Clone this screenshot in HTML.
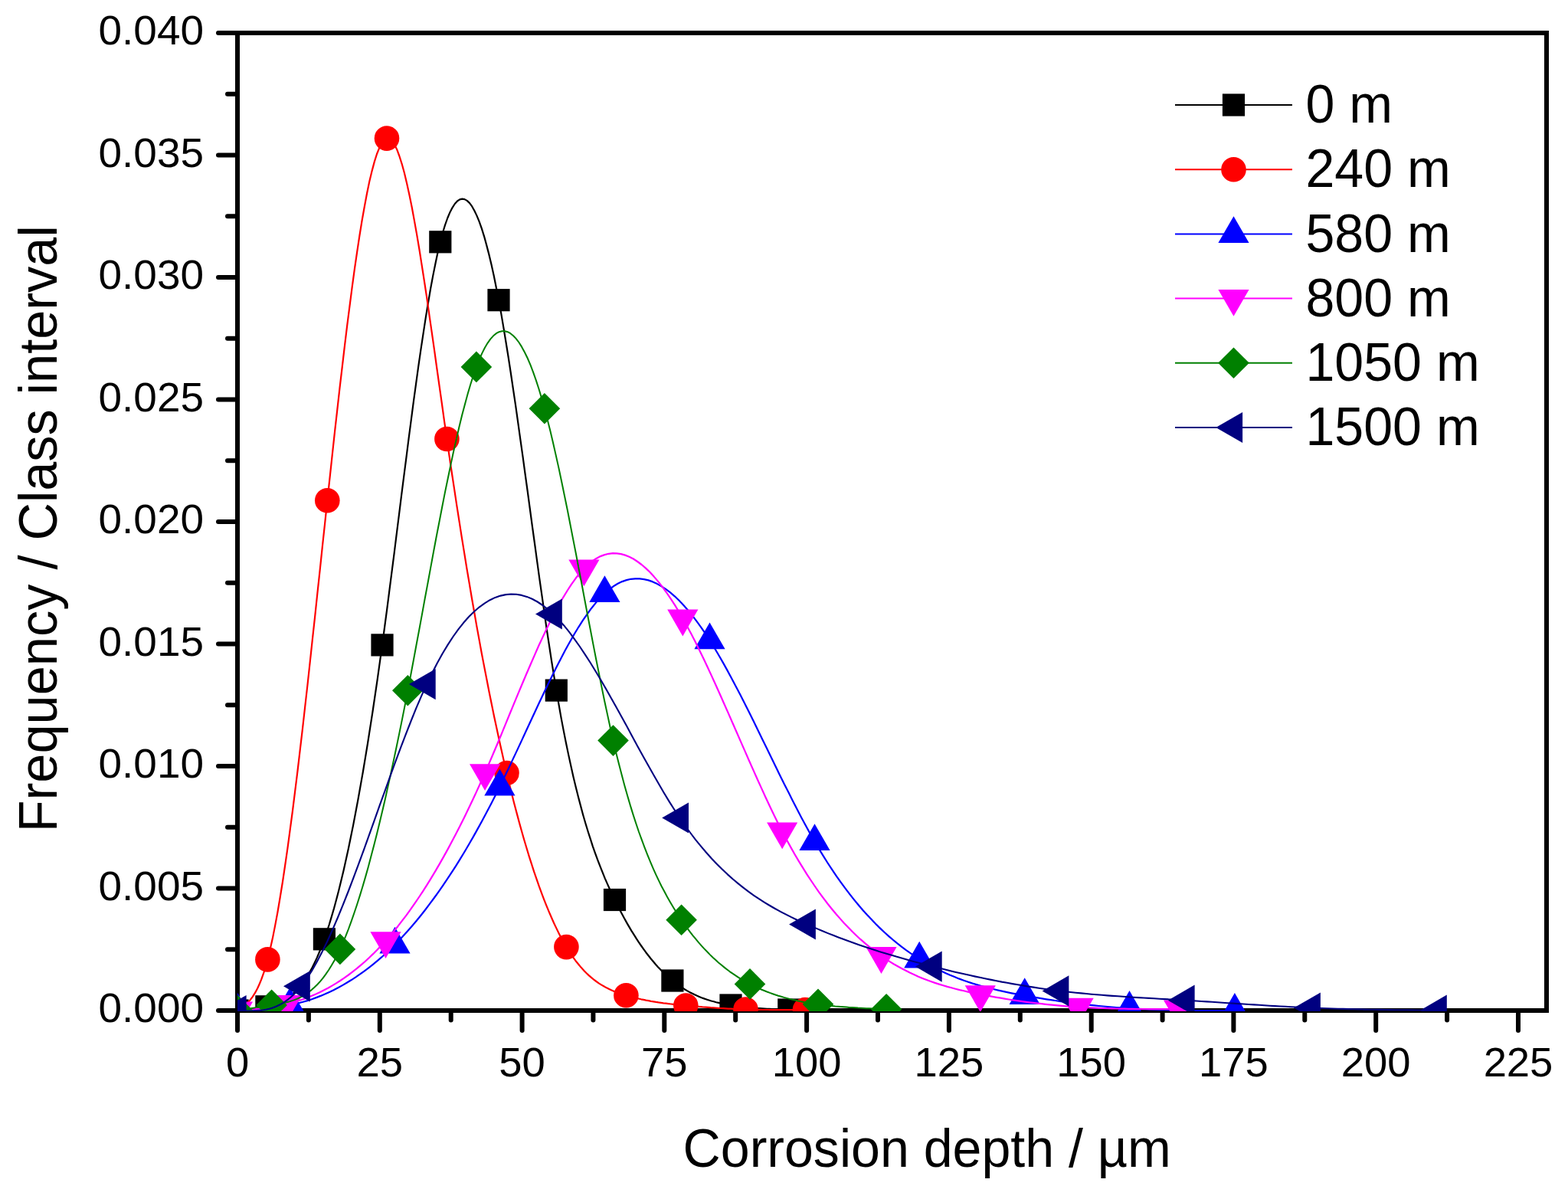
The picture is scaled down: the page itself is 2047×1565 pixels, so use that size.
<!DOCTYPE html><html><head><meta charset="utf-8"><style>html,body{margin:0;padding:0;background:#fff;overflow:hidden;width:2047px;height:1565px;}svg{display:block;}text{font-family:"Liberation Sans",Arial,sans-serif;fill:#000;}</style></head><body>
<svg width="2047" height="1565" viewBox="0 0 2047 1565">
<rect width="2047" height="1565" fill="#fff"/>
<defs><clipPath id="pc"><rect x="310" y="43" width="1709" height="1277"/></clipPath></defs>
<g stroke="#000" stroke-width="6" fill="none">
<rect x="310" y="43" width="1709" height="1276" stroke-linejoin="miter"/>
<line x1="285" y1="1319.0" x2="310" y2="1319.0" stroke-linecap="round"/>
<line x1="297" y1="1239.2" x2="310" y2="1239.2" stroke-linecap="round"/>
<line x1="285" y1="1159.5" x2="310" y2="1159.5" stroke-linecap="round"/>
<line x1="297" y1="1079.8" x2="310" y2="1079.8" stroke-linecap="round"/>
<line x1="285" y1="1000.0" x2="310" y2="1000.0" stroke-linecap="round"/>
<line x1="297" y1="920.2" x2="310" y2="920.2" stroke-linecap="round"/>
<line x1="285" y1="840.5" x2="310" y2="840.5" stroke-linecap="round"/>
<line x1="297" y1="760.8" x2="310" y2="760.8" stroke-linecap="round"/>
<line x1="285" y1="681.0" x2="310" y2="681.0" stroke-linecap="round"/>
<line x1="297" y1="601.2" x2="310" y2="601.2" stroke-linecap="round"/>
<line x1="285" y1="521.5" x2="310" y2="521.5" stroke-linecap="round"/>
<line x1="297" y1="441.8" x2="310" y2="441.8" stroke-linecap="round"/>
<line x1="285" y1="362.0" x2="310" y2="362.0" stroke-linecap="round"/>
<line x1="297" y1="282.2" x2="310" y2="282.2" stroke-linecap="round"/>
<line x1="285" y1="202.5" x2="310" y2="202.5" stroke-linecap="round"/>
<line x1="297" y1="122.8" x2="310" y2="122.8" stroke-linecap="round"/>
<line x1="285" y1="43.0" x2="310" y2="43.0" stroke-linecap="round"/>
<line x1="310.0" y1="1319" x2="310.0" y2="1345" stroke-linecap="round"/>
<line x1="402.9" y1="1319" x2="402.9" y2="1331.5" stroke-linecap="round"/>
<line x1="495.8" y1="1319" x2="495.8" y2="1345" stroke-linecap="round"/>
<line x1="588.7" y1="1319" x2="588.7" y2="1331.5" stroke-linecap="round"/>
<line x1="681.6" y1="1319" x2="681.6" y2="1345" stroke-linecap="round"/>
<line x1="774.4" y1="1319" x2="774.4" y2="1331.5" stroke-linecap="round"/>
<line x1="867.3" y1="1319" x2="867.3" y2="1345" stroke-linecap="round"/>
<line x1="960.2" y1="1319" x2="960.2" y2="1331.5" stroke-linecap="round"/>
<line x1="1053.1" y1="1319" x2="1053.1" y2="1345" stroke-linecap="round"/>
<line x1="1146.0" y1="1319" x2="1146.0" y2="1331.5" stroke-linecap="round"/>
<line x1="1238.9" y1="1319" x2="1238.9" y2="1345" stroke-linecap="round"/>
<line x1="1331.8" y1="1319" x2="1331.8" y2="1331.5" stroke-linecap="round"/>
<line x1="1424.7" y1="1319" x2="1424.7" y2="1345" stroke-linecap="round"/>
<line x1="1517.6" y1="1319" x2="1517.6" y2="1331.5" stroke-linecap="round"/>
<line x1="1610.4" y1="1319" x2="1610.4" y2="1345" stroke-linecap="round"/>
<line x1="1703.3" y1="1319" x2="1703.3" y2="1331.5" stroke-linecap="round"/>
<line x1="1796.2" y1="1319" x2="1796.2" y2="1345" stroke-linecap="round"/>
<line x1="1889.1" y1="1319" x2="1889.1" y2="1331.5" stroke-linecap="round"/>
<line x1="1982.0" y1="1319" x2="1982.0" y2="1345" stroke-linecap="round"/>
</g>
<g font-size="54.4">
<text transform="translate(266,1334.0) scale(1.01,1)" text-anchor="end">0.000</text>
<text transform="translate(266,1174.5) scale(1.01,1)" text-anchor="end">0.005</text>
<text transform="translate(266,1015.0) scale(1.01,1)" text-anchor="end">0.010</text>
<text transform="translate(266,855.5) scale(1.01,1)" text-anchor="end">0.015</text>
<text transform="translate(266,696.0) scale(1.01,1)" text-anchor="end">0.020</text>
<text transform="translate(266,536.5) scale(1.01,1)" text-anchor="end">0.025</text>
<text transform="translate(266,377.0) scale(1.01,1)" text-anchor="end">0.030</text>
<text transform="translate(266,217.5) scale(1.01,1)" text-anchor="end">0.035</text>
<text transform="translate(266,58.0) scale(1.01,1)" text-anchor="end">0.040</text>
<text x="310.0" y="1404.6" text-anchor="middle">0</text>
<text x="495.8" y="1404.6" text-anchor="middle">25</text>
<text x="681.6" y="1404.6" text-anchor="middle">50</text>
<text x="867.3" y="1404.6" text-anchor="middle">75</text>
<text x="1053.1" y="1404.6" text-anchor="middle">100</text>
<text x="1238.9" y="1404.6" text-anchor="middle">125</text>
<text x="1424.7" y="1404.6" text-anchor="middle">150</text>
<text x="1610.4" y="1404.6" text-anchor="middle">175</text>
<text x="1796.2" y="1404.6" text-anchor="middle">200</text>
<text x="1982.0" y="1404.6" text-anchor="middle">225</text>
</g>
<text transform="translate(1210.2,1523.2) scale(0.973,1)" font-size="70" text-anchor="middle">Corrosion depth / µm</text>
<text transform="translate(74,690.3) rotate(-90) scale(0.979,1)" x="0" y="0" font-size="70" text-anchor="middle">Frequency / Class interval</text>
<g clip-path="url(#pc)">
<rect x="295.4" y="1304.4" width="29.2" height="29.2" fill="#000000"/>
<rect x="333.3" y="1299.2" width="29.2" height="29.2" fill="#000000"/>
<rect x="408.8" y="1211.2" width="29.2" height="29.2" fill="#000000"/>
<rect x="484.4" y="827.3" width="29.2" height="29.2" fill="#000000"/>
<rect x="560.2" y="301.2" width="29.2" height="29.2" fill="#000000"/>
<rect x="636.4" y="377.1" width="29.2" height="29.2" fill="#000000"/>
<rect x="711.7" y="886.5" width="29.2" height="29.2" fill="#000000"/>
<rect x="787.9" y="1159.9" width="29.2" height="29.2" fill="#000000"/>
<rect x="863.3" y="1265.4" width="29.2" height="29.2" fill="#000000"/>
<rect x="939.4" y="1297.4" width="29.2" height="29.2" fill="#000000"/>
<rect x="1015.2" y="1303.4" width="29.2" height="29.2" fill="#000000"/>
<path d="M310.0,1319.0 L311.6,1318.9 L313.2,1318.7 L314.7,1318.5 L316.3,1318.4 L317.9,1318.2 L319.5,1318.1 L321.1,1317.9 L322.6,1317.7 L324.2,1317.6 L325.8,1317.4 L327.4,1317.2 L328.9,1317.0 L330.5,1316.8 L332.1,1316.6 L333.7,1316.4 L335.3,1316.1 L336.8,1315.9 L338.4,1315.6 L340.0,1315.4 L341.6,1315.1 L343.2,1314.8 L344.7,1314.5 L346.3,1314.1 L347.9,1313.8 L351.0,1313.1 L354.2,1312.2 L357.3,1311.3 L360.5,1310.2 L363.6,1309.0 L366.8,1307.6 L369.9,1306.0 L373.1,1304.1 L376.2,1302.1 L379.4,1299.7 L382.5,1297.1 L385.6,1294.1 L388.8,1290.8 L391.9,1287.1 L395.1,1283.1 L398.2,1278.7 L401.4,1273.8 L404.5,1268.5 L407.7,1262.7 L410.8,1256.4 L414.0,1249.6 L417.1,1242.2 L420.3,1234.3 L423.4,1225.8 L426.5,1216.7 L429.7,1207.0 L432.8,1196.6 L436.0,1185.7 L439.1,1174.2 L442.3,1162.0 L445.4,1149.3 L448.6,1135.9 L451.7,1122.0 L454.9,1107.5 L458.0,1092.3 L461.2,1076.6 L464.3,1060.3 L467.5,1043.3 L470.6,1025.8 L473.8,1007.7 L476.9,989.1 L480.1,969.8 L483.2,949.9 L486.4,929.5 L489.5,908.5 L492.7,886.9 L495.8,864.7 L499.0,841.9 L502.1,818.5 L505.3,794.6 L508.4,770.3 L511.6,745.7 L514.8,720.8 L517.9,695.8 L521.1,670.7 L524.2,645.6 L527.4,620.6 L530.6,595.8 L533.7,571.3 L536.9,547.1 L540.0,523.4 L543.2,500.2 L546.3,477.6 L549.5,455.7 L552.7,434.6 L555.8,414.3 L559.0,395.0 L562.1,376.8 L565.3,359.6 L568.5,343.7 L571.6,329.1 L574.8,315.8 L577.9,303.9 L581.1,293.5 L584.3,284.5 L587.5,276.9 L590.7,270.8 L593.8,266.0 L597.0,262.5 L600.2,260.4 L603.4,259.6 L606.5,260.1 L609.7,261.9 L612.9,264.9 L616.1,269.2 L619.2,274.7 L622.4,281.4 L625.6,289.2 L628.8,298.2 L632.0,308.3 L635.1,319.6 L638.3,331.9 L641.5,345.3 L644.7,359.7 L647.8,375.2 L651.0,391.7 L654.2,408.9 L657.3,427.1 L660.4,446.0 L663.6,465.7 L666.7,486.0 L669.8,507.0 L673.0,528.4 L676.1,550.3 L679.2,572.6 L682.4,595.2 L685.5,618.0 L688.7,641.0 L691.8,664.0 L694.9,687.0 L698.1,710.0 L701.2,732.8 L704.3,755.4 L707.5,777.6 L710.6,799.6 L713.7,821.1 L716.9,842.0 L720.0,862.4 L723.2,882.1 L726.3,901.1 L729.5,919.5 L732.6,937.1 L735.8,953.9 L739.0,970.0 L742.2,985.4 L745.4,1000.0 L748.5,1014.0 L751.7,1027.3 L754.9,1040.0 L758.1,1052.1 L761.2,1063.7 L764.4,1074.7 L767.6,1085.2 L770.8,1095.2 L773.9,1104.8 L777.1,1113.9 L780.3,1122.6 L783.5,1130.9 L786.7,1138.9 L789.8,1146.6 L793.0,1153.9 L796.2,1161.0 L799.4,1167.9 L802.5,1174.5 L805.7,1180.9 L808.8,1187.0 L812.0,1193.0 L815.1,1198.8 L818.2,1204.4 L821.4,1209.9 L824.5,1215.1 L827.7,1220.2 L830.8,1225.2 L833.9,1229.9 L837.1,1234.5 L840.2,1238.9 L843.3,1243.2 L846.5,1247.3 L849.6,1251.2 L852.8,1255.0 L855.9,1258.7 L859.0,1262.2 L862.2,1265.5 L865.3,1268.7 L868.5,1271.7 L871.6,1274.6 L874.7,1277.4 L877.9,1280.0 L881.1,1282.5 L884.2,1284.9 L887.4,1287.1 L890.6,1289.2 L893.7,1291.2 L896.9,1293.1 L900.1,1294.9 L903.3,1296.5 L906.4,1298.1 L909.6,1299.6 L912.8,1300.9 L915.9,1302.2 L919.1,1303.4 L922.3,1304.5 L925.4,1305.5 L928.6,1306.5 L931.8,1307.3 L935.0,1308.2 L938.1,1308.9 L941.3,1309.6 L944.5,1310.3 L947.6,1310.9 L950.8,1311.5 L954.0,1312.0 L957.1,1312.5 L960.3,1313.0 L963.5,1313.4 L966.6,1313.8 L969.8,1314.2 L972.9,1314.5 L976.1,1314.9 L979.2,1315.2 L982.4,1315.4 L985.6,1315.7 L988.7,1316.0 L991.9,1316.2 L995.0,1316.4 L998.2,1316.6 L1001.4,1316.8 L1004.5,1316.9 L1007.7,1317.1 L1010.8,1317.2 L1014.0,1317.4 L1017.1,1317.5 L1020.3,1317.6 L1023.5,1317.8 L1026.6,1317.9 L1029.8,1318.0" fill="none" stroke="#000000" stroke-width="2.2" stroke-linejoin="round"/>
<circle cx="310.0" cy="1319.0" r="16.3" fill="#ff0000"/>
<circle cx="349.4" cy="1252.4" r="16.3" fill="#ff0000"/>
<circle cx="427.3" cy="653.3" r="16.3" fill="#ff0000"/>
<circle cx="505.0" cy="180.6" r="16.3" fill="#ff0000"/>
<circle cx="583.4" cy="573.0" r="16.3" fill="#ff0000"/>
<circle cx="661.5" cy="1009.0" r="16.3" fill="#ff0000"/>
<circle cx="739.4" cy="1236.1" r="16.3" fill="#ff0000"/>
<circle cx="817.4" cy="1299.3" r="16.3" fill="#ff0000"/>
<circle cx="895.3" cy="1312.5" r="16.3" fill="#ff0000"/>
<circle cx="973.5" cy="1317.5" r="16.3" fill="#ff0000"/>
<circle cx="1051.0" cy="1318.0" r="16.3" fill="#ff0000"/>
<path d="M310.0,1319.0 L311.6,1317.9 L313.3,1316.8 L314.9,1315.7 L316.6,1314.5 L318.2,1313.3 L319.8,1312.0 L321.5,1310.5 L323.1,1309.0 L324.8,1307.2 L326.4,1305.4 L328.1,1303.3 L329.7,1301.1 L331.3,1298.6 L333.0,1295.9 L334.6,1293.0 L336.3,1289.8 L337.9,1286.3 L339.5,1282.5 L341.2,1278.4 L342.8,1273.9 L344.5,1269.1 L346.1,1264.0 L347.7,1258.4 L349.4,1252.4 L352.6,1239.3 L355.9,1224.6 L359.1,1208.4 L362.4,1190.8 L365.6,1171.8 L368.9,1151.5 L372.1,1130.0 L375.4,1107.4 L378.6,1083.6 L381.9,1059.0 L385.1,1033.4 L388.4,1007.0 L391.6,979.8 L394.9,951.9 L398.1,923.5 L401.4,894.5 L404.6,865.1 L407.8,835.4 L411.1,805.3 L414.3,775.0 L417.6,744.6 L420.8,714.1 L424.1,683.7 L427.3,653.3 L430.6,623.2 L433.8,593.4 L437.0,563.9 L440.3,534.9 L443.5,506.4 L446.8,478.5 L450.0,451.2 L453.2,424.8 L456.5,399.3 L459.7,374.7 L462.9,351.1 L466.2,328.7 L469.4,307.5 L472.6,287.7 L475.9,269.2 L479.1,252.2 L482.3,236.8 L485.6,223.1 L488.8,211.1 L492.0,201.0 L495.3,192.8 L498.5,186.6 L501.8,182.5 L505.0,180.6 L508.3,181.0 L511.5,183.6 L514.8,188.2 L518.1,194.9 L521.3,203.5 L524.6,213.8 L527.9,225.8 L531.1,239.3 L534.4,254.2 L537.7,270.5 L540.9,287.9 L544.2,306.4 L547.5,326.0 L550.7,346.3 L554.0,367.5 L557.3,389.2 L560.5,411.6 L563.8,434.3 L567.1,457.3 L570.3,480.5 L573.6,503.8 L576.9,527.0 L580.1,550.2 L583.4,573.0 L586.6,595.4 L589.9,617.5 L593.2,639.1 L596.4,660.4 L599.7,681.4 L602.9,701.9 L606.2,722.1 L609.4,742.0 L612.7,761.4 L615.9,780.5 L619.2,799.2 L622.4,817.6 L625.7,835.6 L628.9,853.2 L632.2,870.4 L635.5,887.3 L638.7,903.8 L642.0,920.0 L645.2,935.7 L648.5,951.1 L651.7,966.1 L655.0,980.8 L658.2,995.1 L661.5,1009.0 L664.7,1022.5 L668.0,1035.7 L671.2,1048.5 L674.5,1060.9 L677.7,1072.9 L681.0,1084.7 L684.2,1096.0 L687.5,1107.0 L690.7,1117.6 L694.0,1127.9 L697.2,1137.9 L700.5,1147.4 L703.7,1156.7 L707.0,1165.6 L710.2,1174.1 L713.5,1182.4 L716.7,1190.2 L720.0,1197.8 L723.2,1205.0 L726.5,1211.9 L729.7,1218.4 L732.9,1224.6 L736.2,1230.5 L739.4,1236.1 L742.7,1241.3 L745.9,1246.3 L749.2,1250.9 L752.4,1255.3 L755.7,1259.3 L758.9,1263.1 L762.2,1266.7 L765.4,1270.0 L768.7,1273.1 L771.9,1275.9 L775.2,1278.6 L778.4,1281.0 L781.7,1283.3 L784.9,1285.4 L788.2,1287.3 L791.4,1289.1 L794.7,1290.8 L797.9,1292.3 L801.2,1293.7 L804.4,1295.0 L807.7,1296.2 L810.9,1297.3 L814.1,1298.3 L817.4,1299.3 L820.6,1300.2 L823.9,1301.1 L827.1,1302.0 L830.4,1302.8 L833.6,1303.5 L836.9,1304.3 L840.1,1304.9 L843.4,1305.6 L846.6,1306.2 L849.9,1306.8 L853.1,1307.3 L856.4,1307.9 L859.6,1308.4 L862.9,1308.8 L866.1,1309.3 L869.4,1309.7 L872.6,1310.1 L875.9,1310.5 L879.1,1310.9 L882.4,1311.2 L885.6,1311.6 L888.9,1311.9 L892.1,1312.2 L895.3,1312.5 L898.6,1312.8 L901.9,1313.1 L905.1,1313.4 L908.4,1313.7 L911.6,1313.9 L914.9,1314.2 L918.1,1314.5 L921.4,1314.7 L924.7,1314.9 L927.9,1315.2 L931.2,1315.4 L934.4,1315.6 L937.7,1315.8 L941.0,1316.0 L944.2,1316.2 L947.5,1316.4 L950.7,1316.6 L954.0,1316.7 L957.2,1316.9 L960.5,1317.0 L963.8,1317.2 L967.0,1317.3 L970.3,1317.4 L973.5,1317.5 L976.8,1317.6 L980.0,1317.7 L983.2,1317.8 L986.4,1317.8 L989.7,1317.9 L992.9,1317.9 L996.1,1318.0 L999.4,1318.0 L1002.6,1318.0 L1005.8,1318.1 L1009.0,1318.1 L1012.3,1318.1 L1015.5,1318.1 L1018.7,1318.1 L1022.0,1318.1 L1025.2,1318.1 L1028.4,1318.1 L1031.7,1318.1 L1034.9,1318.1 L1038.1,1318.1 L1041.3,1318.1 L1044.6,1318.0 L1047.8,1318.0 L1051.0,1318.0" fill="none" stroke="#ff0000" stroke-width="2.2" stroke-linejoin="round"/>
<polygon points="310.0,1295.8 330.1,1330.6 289.9,1330.6" fill="#0000ff"/>
<polygon points="378.5,1288.8 398.6,1323.6 358.4,1323.6" fill="#0000ff"/>
<polygon points="515.5,1209.8 535.6,1244.6 495.4,1244.6" fill="#0000ff"/>
<polygon points="652.4,1003.6 672.5,1038.4 632.3,1038.4" fill="#0000ff"/>
<polygon points="789.4,751.2 809.5,786.0 769.3,786.0" fill="#0000ff"/>
<polygon points="926.5,812.5 946.6,847.3 906.4,847.3" fill="#0000ff"/>
<polygon points="1063.5,1075.2 1083.6,1110.0 1043.4,1110.0" fill="#0000ff"/>
<polygon points="1200.2,1228.7 1220.3,1263.5 1180.2,1263.5" fill="#0000ff"/>
<polygon points="1337.7,1276.3 1357.8,1311.1 1317.6,1311.1" fill="#0000ff"/>
<polygon points="1474.5,1293.0 1494.5,1327.8 1454.4,1327.8" fill="#0000ff"/>
<polygon points="1611.9,1296.0 1632.0,1330.8 1591.8,1330.8" fill="#0000ff"/>
<path d="M310.0,1319.0 L312.9,1318.9 L315.7,1318.7 L318.6,1318.6 L321.4,1318.4 L324.3,1318.3 L327.1,1318.1 L330.0,1317.9 L332.8,1317.7 L335.7,1317.5 L338.5,1317.3 L341.4,1317.1 L344.3,1316.8 L347.1,1316.6 L350.0,1316.3 L352.8,1316.0 L355.7,1315.7 L358.5,1315.3 L361.4,1314.9 L364.2,1314.5 L367.1,1314.1 L370.0,1313.6 L372.8,1313.1 L375.7,1312.6 L378.5,1312.0 L384.2,1310.7 L389.9,1309.3 L395.6,1307.8 L401.3,1306.1 L407.0,1304.2 L412.8,1302.1 L418.5,1299.9 L424.2,1297.5 L429.9,1294.9 L435.6,1292.2 L441.3,1289.3 L447.0,1286.1 L452.7,1282.8 L458.4,1279.3 L464.1,1275.6 L469.8,1271.7 L475.5,1267.6 L481.2,1263.3 L486.9,1258.8 L492.6,1254.1 L498.4,1249.2 L504.1,1244.0 L509.8,1238.6 L515.5,1233.0 L521.2,1227.2 L526.9,1221.1 L532.6,1214.8 L538.3,1208.2 L544.0,1201.5 L549.7,1194.5 L555.4,1187.2 L561.1,1179.7 L566.8,1172.0 L572.5,1164.1 L578.2,1155.9 L583.9,1147.4 L589.7,1138.7 L595.4,1129.8 L601.1,1120.6 L606.8,1111.2 L612.5,1101.5 L618.2,1091.6 L623.9,1081.4 L629.6,1071.0 L635.3,1060.3 L641.0,1049.4 L646.7,1038.2 L652.4,1026.8 L658.1,1015.1 L663.8,1003.2 L669.5,991.1 L675.3,978.9 L681.0,966.6 L686.7,954.3 L692.4,942.0 L698.1,929.7 L703.8,917.5 L709.5,905.5 L715.2,893.6 L720.9,881.9 L726.6,870.5 L732.3,859.4 L738.0,848.6 L743.7,838.2 L749.4,828.3 L755.1,818.8 L760.8,809.9 L766.6,801.5 L772.3,793.7 L778.0,786.6 L783.7,780.1 L789.4,774.4 L795.1,769.5 L800.8,765.3 L806.5,761.8 L812.2,759.1 L817.9,757.1 L823.7,755.8 L829.4,755.3 L835.1,755.3 L840.8,756.1 L846.5,757.4 L852.2,759.4 L857.9,762.1 L863.6,765.3 L869.4,769.1 L875.1,773.4 L880.8,778.3 L886.5,783.8 L892.2,789.8 L897.9,796.2 L903.6,803.2 L909.3,810.7 L915.1,818.6 L920.8,826.9 L926.5,835.7 L932.2,844.9 L937.9,854.5 L943.6,864.4 L949.3,874.6 L955.0,885.2 L960.7,896.0 L966.5,907.0 L972.2,918.2 L977.9,929.6 L983.6,941.1 L989.3,952.7 L995.0,964.4 L1000.7,976.1 L1006.4,987.8 L1012.1,999.5 L1017.8,1011.2 L1023.5,1022.7 L1029.3,1034.1 L1035.0,1045.4 L1040.7,1056.5 L1046.4,1067.4 L1052.1,1078.0 L1057.8,1088.4 L1063.5,1098.4 L1069.2,1108.1 L1074.9,1117.4 L1080.6,1126.5 L1086.3,1135.2 L1092.0,1143.6 L1097.7,1151.6 L1103.4,1159.4 L1109.1,1166.9 L1114.8,1174.1 L1120.5,1181.0 L1126.2,1187.7 L1131.9,1194.0 L1137.6,1200.1 L1143.3,1206.0 L1149.0,1211.6 L1154.7,1217.0 L1160.4,1222.1 L1166.1,1227.0 L1171.8,1231.7 L1177.5,1236.1 L1183.2,1240.4 L1188.9,1244.4 L1194.5,1248.2 L1200.2,1251.9 L1206.0,1255.4 L1211.7,1258.7 L1217.4,1261.8 L1223.2,1264.8 L1228.9,1267.6 L1234.6,1270.3 L1240.3,1272.8 L1246.1,1275.1 L1251.8,1277.4 L1257.5,1279.5 L1263.3,1281.5 L1269.0,1283.4 L1274.7,1285.1 L1280.4,1286.8 L1286.2,1288.4 L1291.9,1289.9 L1297.6,1291.3 L1303.4,1292.6 L1309.1,1293.9 L1314.8,1295.1 L1320.5,1296.3 L1326.3,1297.4 L1332.0,1298.5 L1337.7,1299.5 L1343.4,1300.5 L1349.1,1301.5 L1354.8,1302.4 L1360.5,1303.4 L1366.2,1304.3 L1371.9,1305.2 L1377.6,1306.0 L1383.3,1306.8 L1389.0,1307.6 L1394.7,1308.4 L1400.4,1309.1 L1406.1,1309.8 L1411.8,1310.5 L1417.5,1311.2 L1423.2,1311.8 L1428.9,1312.4 L1434.6,1313.0 L1440.3,1313.5 L1446.0,1314.0 L1451.7,1314.5 L1457.4,1315.0 L1463.1,1315.4 L1468.8,1315.8 L1474.5,1316.2 L1480.2,1316.5 L1485.9,1316.9 L1491.6,1317.2 L1497.4,1317.4 L1503.1,1317.7 L1508.8,1317.9 L1514.6,1318.1 L1520.3,1318.2 L1526.0,1318.4 L1531.7,1318.5 L1537.5,1318.7 L1543.2,1318.8 L1548.9,1318.8 L1554.6,1318.9 L1560.4,1319.0 L1566.1,1319.0 L1571.8,1319.1 L1577.6,1319.1 L1583.3,1319.1 L1589.0,1319.2 L1594.7,1319.2 L1600.5,1319.2 L1606.2,1319.2 L1611.9,1319.2" fill="none" stroke="#0000ff" stroke-width="2.2" stroke-linejoin="round"/>
<polygon points="310.0,1342.2 330.1,1307.4 289.9,1307.4" fill="#ff00ff"/>
<polygon points="374.2,1333.7 394.3,1298.9 354.1,1298.9" fill="#ff00ff"/>
<polygon points="503.5,1251.1 523.6,1216.3 483.4,1216.3" fill="#ff00ff"/>
<polygon points="633.1,1032.0 653.2,997.2 613.0,997.2" fill="#ff00ff"/>
<polygon points="762.4,765.2 782.5,730.4 742.3,730.4" fill="#ff00ff"/>
<polygon points="891.3,830.4 911.4,795.6 871.2,795.6" fill="#ff00ff"/>
<polygon points="1021.2,1108.2 1041.2,1073.4 1001.1,1073.4" fill="#ff00ff"/>
<polygon points="1150.5,1270.9 1170.6,1236.1 1130.4,1236.1" fill="#ff00ff"/>
<polygon points="1279.8,1321.1 1299.9,1286.3 1259.7,1286.3" fill="#ff00ff"/>
<polygon points="1407.6,1337.6 1427.7,1302.8 1387.5,1302.8" fill="#ff00ff"/>
<polygon points="1539.1,1340.3 1559.2,1305.5 1519.0,1305.5" fill="#ff00ff"/>
<path d="M310.0,1319.0 L312.7,1318.8 L315.4,1318.6 L318.0,1318.4 L320.7,1318.1 L323.4,1317.9 L326.1,1317.7 L328.7,1317.4 L331.4,1317.2 L334.1,1316.9 L336.8,1316.6 L339.4,1316.3 L342.1,1316.0 L344.8,1315.7 L347.5,1315.4 L350.1,1315.0 L352.8,1314.6 L355.5,1314.2 L358.2,1313.7 L360.8,1313.3 L363.5,1312.8 L366.2,1312.3 L368.9,1311.7 L371.5,1311.1 L374.2,1310.5 L379.6,1309.1 L385.0,1307.6 L390.4,1306.0 L395.8,1304.2 L401.1,1302.2 L406.5,1300.0 L411.9,1297.7 L417.3,1295.2 L422.7,1292.5 L428.1,1289.7 L433.5,1286.6 L438.9,1283.4 L444.2,1280.0 L449.6,1276.3 L455.0,1272.5 L460.4,1268.4 L465.8,1264.2 L471.2,1259.7 L476.6,1255.0 L482.0,1250.0 L487.3,1244.9 L492.7,1239.4 L498.1,1233.8 L503.5,1227.9 L508.9,1221.7 L514.3,1215.3 L519.7,1208.7 L525.1,1201.7 L530.5,1194.6 L535.9,1187.1 L541.3,1179.4 L546.7,1171.5 L552.1,1163.3 L557.5,1154.8 L562.9,1146.1 L568.3,1137.1 L573.7,1127.9 L579.1,1118.4 L584.5,1108.6 L589.9,1098.6 L595.3,1088.3 L600.7,1077.7 L606.1,1066.9 L611.5,1055.8 L616.9,1044.5 L622.3,1032.9 L627.7,1021.0 L633.1,1008.8 L638.5,996.4 L643.9,983.8 L649.3,971.0 L654.7,958.1 L660.0,945.1 L665.4,932.0 L670.8,918.9 L676.2,905.9 L681.6,893.0 L687.0,880.3 L692.4,867.7 L697.8,855.4 L703.1,843.3 L708.5,831.6 L713.9,820.2 L719.3,809.2 L724.7,798.7 L730.1,788.7 L735.5,779.3 L740.9,770.5 L746.2,762.3 L751.6,754.8 L757.0,748.0 L762.4,742.0 L767.8,736.8 L773.2,732.5 L778.5,728.9 L783.9,726.1 L789.3,724.1 L794.6,722.8 L800.0,722.2 L805.4,722.3 L810.8,723.1 L816.1,724.6 L821.5,726.7 L826.9,729.5 L832.2,733.0 L837.6,737.0 L843.0,741.6 L848.4,746.8 L853.7,752.6 L859.1,758.9 L864.5,765.7 L869.8,773.0 L875.2,780.9 L880.6,789.2 L886.0,798.0 L891.3,807.2 L896.7,816.9 L902.2,827.1 L907.6,837.6 L913.0,848.4 L918.4,859.5 L923.8,871.0 L929.2,882.6 L934.6,894.5 L940.0,906.5 L945.4,918.7 L950.8,930.9 L956.2,943.3 L961.7,955.7 L967.1,968.1 L972.5,980.4 L977.9,992.7 L983.3,1004.9 L988.7,1017.0 L994.1,1028.9 L999.5,1040.7 L1004.9,1052.2 L1010.3,1063.4 L1015.7,1074.4 L1021.2,1085.0 L1026.5,1095.2 L1031.9,1105.1 L1037.3,1114.7 L1042.7,1123.9 L1048.1,1132.7 L1053.5,1141.3 L1058.9,1149.5 L1064.3,1157.5 L1069.6,1165.1 L1075.0,1172.4 L1080.4,1179.5 L1085.8,1186.2 L1091.2,1192.7 L1096.6,1198.9 L1102.0,1204.9 L1107.4,1210.6 L1112.7,1216.0 L1118.1,1221.2 L1123.5,1226.2 L1128.9,1230.9 L1134.3,1235.4 L1139.7,1239.7 L1145.1,1243.8 L1150.5,1247.7 L1155.8,1251.4 L1161.2,1254.9 L1166.6,1258.2 L1172.0,1261.3 L1177.4,1264.3 L1182.8,1267.1 L1188.2,1269.8 L1193.6,1272.3 L1198.9,1274.7 L1204.3,1276.9 L1209.7,1279.0 L1215.1,1281.0 L1220.5,1282.9 L1225.9,1284.6 L1231.3,1286.3 L1236.7,1287.9 L1242.0,1289.3 L1247.4,1290.7 L1252.8,1292.1 L1258.2,1293.3 L1263.6,1294.6 L1269.0,1295.7 L1274.4,1296.8 L1279.8,1297.9 L1285.1,1298.9 L1290.4,1299.9 L1295.7,1300.9 L1301.1,1301.8 L1306.4,1302.7 L1311.7,1303.6 L1317.0,1304.5 L1322.4,1305.3 L1327.7,1306.1 L1333.0,1306.8 L1338.3,1307.6 L1343.7,1308.3 L1349.0,1308.9 L1354.3,1309.6 L1359.6,1310.2 L1365.0,1310.8 L1370.3,1311.3 L1375.6,1311.8 L1380.9,1312.3 L1386.3,1312.8 L1391.6,1313.3 L1396.9,1313.7 L1402.2,1314.0 L1407.6,1314.4 L1413.1,1314.7 L1418.5,1315.0 L1424.0,1315.3 L1429.5,1315.6 L1435.0,1315.8 L1440.5,1316.0 L1445.9,1316.2 L1451.4,1316.4 L1456.9,1316.5 L1462.4,1316.6 L1467.9,1316.7 L1473.3,1316.8 L1478.8,1316.9 L1484.3,1317.0 L1489.8,1317.0 L1495.3,1317.0 L1500.7,1317.1 L1506.2,1317.1 L1511.7,1317.1 L1517.2,1317.1 L1522.7,1317.1 L1528.1,1317.1 L1533.6,1317.1 L1539.1,1317.1" fill="none" stroke="#ff00ff" stroke-width="2.2" stroke-linejoin="round"/>
<polygon points="310.0,1298.7 330.3,1319.0 310.0,1339.3 289.7,1319.0" fill="#008000"/>
<polygon points="354.6,1291.6 374.9,1311.9 354.6,1332.2 334.3,1311.9" fill="#008000"/>
<polygon points="443.9,1218.6 464.2,1238.9 443.9,1259.2 423.6,1238.9" fill="#008000"/>
<polygon points="532.3,881.0 552.6,901.3 532.3,921.6 512.0,901.3" fill="#008000"/>
<polygon points="621.9,458.6 642.2,478.9 621.9,499.2 601.6,478.9" fill="#008000"/>
<polygon points="710.9,513.0 731.2,533.3 710.9,553.6 690.6,533.3" fill="#008000"/>
<polygon points="800.5,946.3 820.8,966.6 800.5,986.9 780.2,966.6" fill="#008000"/>
<polygon points="889.6,1180.5 909.9,1200.8 889.6,1221.1 869.3,1200.8" fill="#008000"/>
<polygon points="979.0,1264.1 999.3,1284.4 979.0,1304.7 958.7,1284.4" fill="#008000"/>
<polygon points="1068.0,1290.5 1088.3,1310.8 1068.0,1331.1 1047.7,1310.8" fill="#008000"/>
<polygon points="1157.1,1297.0 1177.4,1317.3 1157.1,1337.6 1136.8,1317.3" fill="#008000"/>
<path d="M310.0,1319.0 L311.9,1318.7 L313.7,1318.4 L315.6,1318.1 L317.4,1317.8 L319.3,1317.5 L321.1,1317.2 L323.0,1316.9 L324.9,1316.6 L326.7,1316.3 L328.6,1316.0 L330.4,1315.7 L332.3,1315.4 L334.2,1315.1 L336.0,1314.8 L337.9,1314.5 L339.7,1314.2 L341.6,1314.0 L343.4,1313.7 L345.3,1313.4 L347.2,1313.1 L349.0,1312.8 L350.9,1312.5 L352.7,1312.2 L354.6,1311.9 L358.3,1311.3 L362.0,1310.7 L365.8,1310.0 L369.5,1309.3 L373.2,1308.5 L376.9,1307.5 L380.6,1306.4 L384.4,1305.1 L388.1,1303.6 L391.8,1301.9 L395.5,1299.9 L399.2,1297.6 L403.0,1295.0 L406.7,1292.1 L410.4,1288.8 L414.1,1285.2 L417.9,1281.1 L421.6,1276.6 L425.3,1271.6 L429.0,1266.2 L432.7,1260.2 L436.5,1253.7 L440.2,1246.6 L443.9,1238.9 L447.6,1230.7 L451.3,1221.9 L455.0,1212.5 L458.6,1202.6 L462.3,1192.0 L466.0,1181.0 L469.7,1169.4 L473.4,1157.2 L477.1,1144.6 L480.8,1131.5 L484.4,1117.8 L488.1,1103.7 L491.8,1089.2 L495.5,1074.1 L499.2,1058.6 L502.9,1042.7 L506.5,1026.4 L510.2,1009.7 L513.9,992.5 L517.6,975.0 L521.3,957.1 L525.0,938.9 L528.7,920.2 L532.3,901.3 L536.1,881.8 L539.8,862.0 L543.5,842.0 L547.3,821.8 L551.0,801.6 L554.7,781.3 L558.5,761.0 L562.2,740.9 L565.9,720.8 L569.6,701.0 L573.4,681.5 L577.1,662.2 L580.8,643.4 L584.6,625.0 L588.3,607.1 L592.0,589.8 L595.8,573.1 L599.5,557.1 L603.2,541.8 L607.0,527.4 L610.7,513.8 L614.4,501.2 L618.2,489.5 L621.9,478.9 L625.6,469.4 L629.3,461.1 L633.0,453.8 L636.7,447.6 L640.4,442.4 L644.1,438.3 L647.8,435.2 L651.6,433.2 L655.3,432.2 L659.0,432.2 L662.7,433.2 L666.4,435.2 L670.1,438.2 L673.8,442.1 L677.5,447.0 L681.2,452.9 L684.9,459.7 L688.7,467.5 L692.4,476.2 L696.1,485.8 L699.8,496.4 L703.5,507.8 L707.2,520.1 L710.9,533.3 L714.6,547.5 L718.4,562.4 L722.1,578.2 L725.8,594.6 L729.6,611.6 L733.3,629.2 L737.0,647.3 L740.8,665.8 L744.5,684.7 L748.2,703.9 L752.0,723.3 L755.7,742.9 L759.5,762.5 L763.2,782.2 L766.9,801.9 L770.7,821.5 L774.4,840.9 L778.1,860.0 L781.9,878.9 L785.6,897.4 L789.3,915.5 L793.1,933.1 L796.8,950.2 L800.5,966.6 L804.2,982.3 L808.0,997.3 L811.7,1011.6 L815.4,1025.4 L819.1,1038.5 L822.8,1051.1 L826.5,1063.1 L830.2,1074.5 L833.9,1085.5 L837.7,1095.9 L841.4,1105.9 L845.1,1115.4 L848.8,1124.4 L852.5,1133.1 L856.2,1141.3 L859.9,1149.2 L863.6,1156.7 L867.4,1163.8 L871.1,1170.7 L874.8,1177.2 L878.5,1183.5 L882.2,1189.5 L885.9,1195.3 L889.6,1200.8 L893.4,1206.2 L897.1,1211.3 L900.8,1216.3 L904.5,1221.1 L908.3,1225.7 L912.0,1230.1 L915.7,1234.3 L919.4,1238.4 L923.2,1242.3 L926.9,1246.1 L930.6,1249.7 L934.3,1253.1 L938.0,1256.4 L941.8,1259.6 L945.5,1262.6 L949.2,1265.5 L952.9,1268.3 L956.7,1270.9 L960.4,1273.4 L964.1,1275.8 L967.8,1278.1 L971.6,1280.3 L975.3,1282.4 L979.0,1284.4 L982.7,1286.3 L986.4,1288.1 L990.1,1289.8 L993.8,1291.5 L997.6,1293.0 L1001.3,1294.5 L1005.0,1295.9 L1008.7,1297.2 L1012.4,1298.5 L1016.1,1299.7 L1019.8,1300.8 L1023.5,1301.9 L1027.2,1302.9 L1030.9,1303.9 L1034.6,1304.8 L1038.3,1305.6 L1042.0,1306.4 L1045.7,1307.2 L1049.4,1307.9 L1053.1,1308.5 L1056.9,1309.1 L1060.6,1309.7 L1064.3,1310.3 L1068.0,1310.8 L1071.7,1311.3 L1075.4,1311.8 L1079.1,1312.2 L1082.8,1312.6 L1086.6,1313.0 L1090.3,1313.4 L1094.0,1313.7 L1097.7,1314.0 L1101.4,1314.3 L1105.1,1314.6 L1108.8,1314.9 L1112.6,1315.1 L1116.3,1315.3 L1120.0,1315.6 L1123.7,1315.8 L1127.4,1316.0 L1131.1,1316.2 L1134.9,1316.3 L1138.6,1316.5 L1142.3,1316.7 L1146.0,1316.8 L1149.7,1317.0 L1153.4,1317.1 L1157.1,1317.3" fill="none" stroke="#008000" stroke-width="2.0" stroke-linejoin="round"/>
<polygon points="286.8,1319.0 321.6,1298.9 321.6,1339.1" fill="#000080"/>
<polygon points="370.0,1287.3 404.8,1267.2 404.8,1307.4" fill="#000080"/>
<polygon points="533.9,893.1 568.7,873.0 568.7,913.2" fill="#000080"/>
<polygon points="699.0,801.5 733.8,781.4 733.8,821.6" fill="#000080"/>
<polygon points="864.2,1067.5 899.0,1047.4 899.0,1087.6" fill="#000080"/>
<polygon points="1030.1,1206.5 1064.9,1186.4 1064.9,1226.6" fill="#000080"/>
<polygon points="1194.9,1261.6 1229.7,1241.5 1229.7,1281.7" fill="#000080"/>
<polygon points="1360.6,1293.4 1395.4,1273.3 1395.4,1313.5" fill="#000080"/>
<polygon points="1524.8,1305.7 1559.6,1285.6 1559.6,1325.8" fill="#000080"/>
<polygon points="1689.1,1315.5 1723.9,1295.4 1723.9,1335.6" fill="#000080"/>
<polygon points="1854.0,1318.7 1888.8,1298.6 1888.8,1338.8" fill="#000080"/>
<path d="M310.0,1319.0 L313.5,1319.2 L316.9,1319.4 L320.4,1319.5 L323.9,1319.6 L327.3,1319.6 L330.8,1319.6 L334.3,1319.4 L337.7,1319.2 L341.2,1318.8 L344.7,1318.2 L348.1,1317.6 L351.6,1316.7 L355.1,1315.7 L358.5,1314.4 L362.0,1313.0 L365.5,1311.3 L369.0,1309.3 L372.4,1307.1 L375.9,1304.6 L379.4,1301.8 L382.8,1298.7 L386.3,1295.2 L389.8,1291.4 L393.2,1287.3 L400.1,1278.1 L406.9,1267.4 L413.7,1255.6 L420.5,1242.5 L427.4,1228.5 L434.2,1213.4 L441.0,1197.5 L447.8,1180.9 L454.7,1163.5 L461.5,1145.7 L468.3,1127.3 L475.2,1108.6 L482.0,1089.7 L488.8,1070.6 L495.6,1051.4 L502.5,1032.3 L509.3,1013.4 L516.1,994.6 L522.9,976.3 L529.8,958.3 L536.6,941.0 L543.4,924.2 L550.3,908.2 L557.1,893.1 L564.0,878.8 L570.8,865.4 L577.7,853.0 L584.6,841.6 L591.5,831.0 L598.4,821.4 L605.2,812.8 L612.1,805.0 L619.0,798.2 L625.9,792.3 L632.8,787.3 L639.6,783.2 L646.5,779.9 L653.4,777.6 L660.3,776.1 L667.2,775.5 L674.0,775.8 L680.9,776.9 L687.8,778.9 L694.7,781.8 L701.6,785.5 L708.4,790.0 L715.3,795.3 L722.2,801.5 L729.1,808.5 L736.0,816.2 L742.9,824.7 L749.7,833.8 L756.6,843.5 L763.5,853.8 L770.4,864.5 L777.3,875.7 L784.2,887.2 L791.0,899.1 L797.9,911.2 L804.8,923.6 L811.7,936.1 L818.6,948.6 L825.4,961.3 L832.3,973.9 L839.2,986.4 L846.1,998.8 L853.0,1011.0 L859.9,1023.0 L866.7,1034.7 L873.6,1046.1 L880.5,1057.0 L887.4,1067.5 L894.3,1077.5 L901.2,1087.0 L908.1,1096.1 L915.1,1104.6 L922.0,1112.8 L928.9,1120.5 L935.8,1127.7 L942.7,1134.6 L949.6,1141.1 L956.5,1147.3 L963.5,1153.1 L970.4,1158.6 L977.3,1163.8 L984.2,1168.8 L991.1,1173.4 L998.0,1177.8 L1004.9,1182.0 L1011.8,1186.0 L1018.8,1189.8 L1025.7,1193.4 L1032.6,1196.9 L1039.5,1200.2 L1046.4,1203.4 L1053.3,1206.5 L1060.2,1209.5 L1067.1,1212.4 L1073.9,1215.3 L1080.8,1218.1 L1087.7,1220.8 L1094.5,1223.4 L1101.4,1226.0 L1108.2,1228.5 L1115.1,1231.0 L1122.0,1233.4 L1128.8,1235.7 L1135.7,1238.0 L1142.6,1240.2 L1149.4,1242.4 L1156.3,1244.5 L1163.2,1246.5 L1170.0,1248.6 L1176.9,1250.5 L1183.8,1252.5 L1190.6,1254.4 L1197.5,1256.2 L1204.4,1258.1 L1211.2,1259.8 L1218.1,1261.6 L1225.0,1263.3 L1231.9,1265.0 L1238.8,1266.7 L1245.7,1268.4 L1252.6,1270.0 L1259.5,1271.5 L1266.4,1273.1 L1273.3,1274.6 L1280.2,1276.0 L1287.1,1277.5 L1294.0,1278.9 L1300.9,1280.2 L1307.8,1281.6 L1314.7,1282.8 L1321.7,1284.1 L1328.6,1285.3 L1335.5,1286.4 L1342.4,1287.6 L1349.3,1288.6 L1356.2,1289.7 L1363.1,1290.7 L1370.0,1291.6 L1376.9,1292.5 L1383.8,1293.4 L1390.6,1294.2 L1397.5,1295.0 L1404.3,1295.7 L1411.2,1296.4 L1418.0,1297.0 L1424.9,1297.7 L1431.7,1298.3 L1438.5,1298.8 L1445.4,1299.4 L1452.2,1299.9 L1459.1,1300.3 L1465.9,1300.8 L1472.8,1301.3 L1479.6,1301.7 L1486.4,1302.1 L1493.3,1302.5 L1500.1,1302.9 L1507.0,1303.3 L1513.8,1303.7 L1520.7,1304.1 L1527.5,1304.5 L1534.3,1304.9 L1541.2,1305.3 L1548.0,1305.7 L1554.9,1306.1 L1561.7,1306.5 L1568.6,1307.0 L1575.4,1307.4 L1582.2,1307.8 L1589.1,1308.3 L1595.9,1308.7 L1602.8,1309.2 L1609.6,1309.6 L1616.5,1310.1 L1623.3,1310.5 L1630.1,1311.0 L1637.0,1311.4 L1643.8,1311.8 L1650.7,1312.2 L1657.5,1312.7 L1664.4,1313.1 L1671.2,1313.5 L1678.0,1313.8 L1684.9,1314.2 L1691.7,1314.5 L1698.6,1314.9 L1705.4,1315.2 L1712.3,1315.5 L1719.1,1315.8 L1726.0,1316.0 L1732.9,1316.3 L1739.7,1316.5 L1746.6,1316.7 L1753.5,1316.9 L1760.4,1317.1 L1767.2,1317.3 L1774.1,1317.4 L1781.0,1317.6 L1787.9,1317.7 L1794.7,1317.8 L1801.6,1317.9 L1808.5,1318.0 L1815.4,1318.1 L1822.2,1318.2 L1829.1,1318.3 L1836.0,1318.3 L1842.9,1318.4 L1849.7,1318.5 L1856.6,1318.5 L1863.5,1318.6 L1870.3,1318.6 L1877.2,1318.7" fill="none" stroke="#000080" stroke-width="2.1" stroke-linejoin="round"/>
</g>
<g>
<line x1="1534" y1="137.0" x2="1687" y2="137.0" stroke="#000000" stroke-width="2"/>
<rect x="1595.9" y="122.4" width="29.2" height="29.2" fill="#000000"/>
<text transform="translate(1704.5,160.2) scale(0.973,1)" font-size="70">0 m</text>
<line x1="1534" y1="221.2" x2="1687" y2="221.2" stroke="#ff0000" stroke-width="2"/>
<circle cx="1610.5" cy="221.2" r="16.3" fill="#ff0000"/>
<text transform="translate(1704.5,244.4) scale(0.973,1)" font-size="70">240 m</text>
<line x1="1534" y1="305.4" x2="1687" y2="305.4" stroke="#0000ff" stroke-width="2"/>
<polygon points="1610.5,282.2 1630.6,317.0 1590.4,317.0" fill="#0000ff"/>
<text transform="translate(1704.5,328.6) scale(0.973,1)" font-size="70">580 m</text>
<line x1="1534" y1="389.6" x2="1687" y2="389.6" stroke="#ff00ff" stroke-width="2"/>
<polygon points="1610.5,412.8 1630.6,378.0 1590.4,378.0" fill="#ff00ff"/>
<text transform="translate(1704.5,412.8) scale(0.973,1)" font-size="70">800 m</text>
<line x1="1534" y1="473.8" x2="1687" y2="473.8" stroke="#008000" stroke-width="2"/>
<polygon points="1610.5,453.5 1630.8,473.8 1610.5,494.1 1590.2,473.8" fill="#008000"/>
<text transform="translate(1704.5,497.0) scale(0.973,1)" font-size="70">1050 m</text>
<line x1="1534" y1="558.0" x2="1687" y2="558.0" stroke="#000080" stroke-width="2"/>
<polygon points="1587.3,558.0 1622.1,537.9 1622.1,578.1" fill="#000080"/>
<text transform="translate(1704.5,581.2) scale(0.973,1)" font-size="70">1500 m</text>
</g>
</svg></body></html>
